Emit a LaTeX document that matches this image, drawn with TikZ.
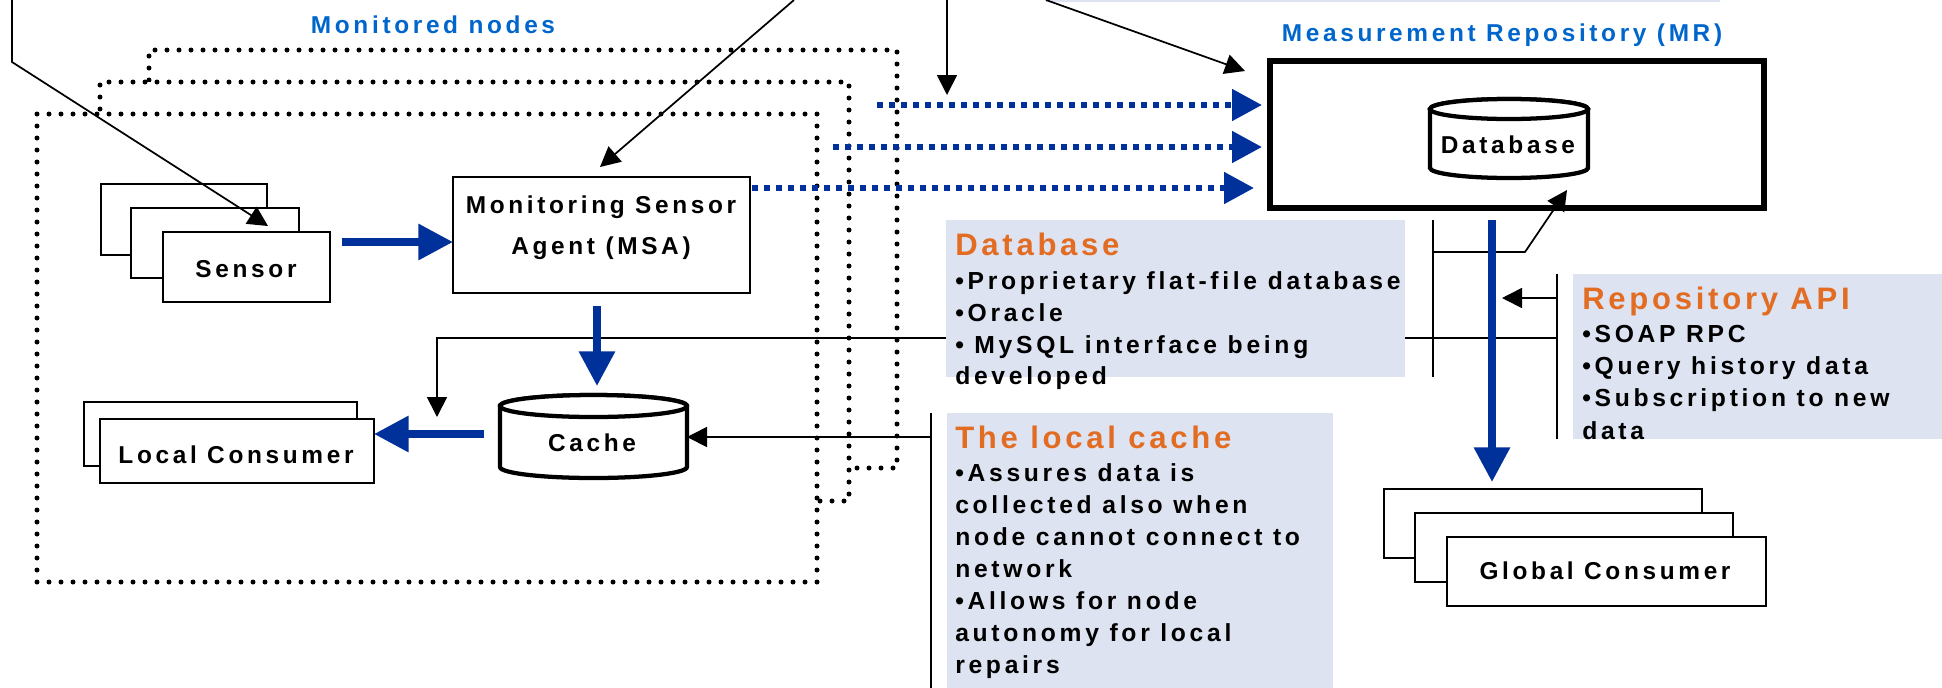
\documentclass[tikz,border=0pt]{standalone}
\usepackage{fontspec}
\usetikzlibrary{arrows.meta,calc}
\newfontfamily\bodyfont{Liberation Sans}[LetterSpace=15]
\newfontfamily\titlefont{Liberation Sans}[LetterSpace=12]
\definecolor{arrowblue}{RGB}{0,48,154}
\definecolor{labelblue}{RGB}{0,102,204}
\definecolor{calloutfill}{RGB}{221,227,240}
\definecolor{titleorange}{RGB}{227,108,35}

% box given by its top-left and bottom-right corners (pixel grid, y downwards)
\newcommand\placebox[6][]{%
  \pgfmathsetmacro\boxw{0.75*(#5-#3)}%
  \pgfmathsetmacro\boxh{0.75*(#6-#4)}%
  \node[#1, anchor=north west, inner sep=0pt, outer sep=0pt,
        minimum width=\boxw pt, minimum height=\boxh pt] (#2) at (#3,#4) {};}

\begin{document}
\begin{tikzpicture}[x=0.75pt, y=-0.75pt,
  txt/.style={font=\bodyfont\fontsize{18.3}{24}\selectfont\bfseries, inner sep=0pt, anchor=base},
  ctxt/.style={font=\bodyfont\fontsize{18.5}{24}\selectfont\bfseries, inner sep=0pt, anchor=base west},
  ctitle/.style={font=\titlefont\fontsize{23.3}{27}\selectfont\bfseries, inner sep=0pt,
                 anchor=base west, text=titleorange},
  bluelbl/.style={txt, text=labelblue},
  card/.style={draw, line width=1.5pt, fill=white},
  agentbox/.style={draw, line width=1.8pt, fill=white},
  nodebox/.style={draw, line width=3.75pt, dash pattern=on 0pt off 9pt,
                  line cap=round, fill=white},
  callout/.style={fill=calloutfill, draw=none},
  plain/.style={line width=1.3pt},
  conn/.style={line width=1.3pt, -{Triangle[length=15pt,width=15pt]}},
  flow/.style={line width=5.6pt, arrowblue, -{Triangle[length=26pt,width=26pt]}},
  feed/.style={line width=4.5pt, arrowblue, dash pattern=on 4.5pt off 4.5pt,
               -{Triangle[length=22.5pt,width=23pt]}},
  cyl/.style={line width=3.2pt, fill=white}
]
\useasboundingbox (0,0) rectangle (1942,687);
\clip (0,0) rectangle (1942,687);

% note box cut off at the top edge
\placebox[callout]{topnote}{1046}{-10}{1720}{2}

% monitored nodes (stacked)
\placebox[nodebox]{node3}{149}{50}{897}{468}
\placebox[nodebox]{node2}{100}{82}{849}{501}
\placebox[nodebox]{node1}{37}{114}{817}{582}

% sensors
\placebox[card]{s1}{101}{184}{267}{255}
\placebox[card]{s2}{131}{208}{299}{278}
\placebox[card]{s3}{163}{232}{330}{302}
\node[txt] (sensorLbl) at (246,277) {Sensor};

% monitoring sensor agent
\placebox[agentbox]{msa}{453}{177}{750}{293}
\node[txt] (msaLbl1) at (601,213) {Monitoring Sensor};
\node[txt] (msaLbl2) at (601,254) {Agent (MSA)};

% local consumers
\placebox[card]{lc1}{84}{402}{357}{466}
\placebox[card]{lc2}{100}{419}{374}{483}
\node[txt] (lcLbl) at (236,463) {Local Consumer};

% cache cylinder
\placebox{cache}{500}{395}{687}{478}
\draw[cyl] (500,406) -- (500,467)
  arc[start angle=180, end angle=360, x radius=70.1pt, y radius=8.25pt]
  -- (687,406)
  arc[start angle=0, end angle=180, x radius=70.1pt, y radius=8.25pt] -- cycle;
\draw[cyl] (593.5,406) ellipse[x radius=70.1pt, y radius=8.25pt];
\node[txt] (cacheLbl) at (592,451) {Cache};

% connector endpoints
\coordinate (tlA) at (12,0);
\coordinate (tlB) at (12,62);
\coordinate (tlTip) at (268,226);
\coordinate (msaSrc) at (794,0);
\coordinate (msaTip) at (600,167);
\coordinate (topDown) at (947,0);
\coordinate (topDownTip) at (947,95);
\coordinate (mrSrc) at (1046,0);
\coordinate (mrTip) at (1245,71);
\coordinate (dbbT) at (1433,220);
\coordinate (dbbB) at (1433,377);
\coordinate (dbbJ) at (1433,252);
\coordinate (dbbK) at (1525,252);
\coordinate (dbTip) at (1567,190);
\coordinate (apiT) at (1557,274);
\coordinate (apiB) at (1557,439);
\coordinate (apiJ) at (1557,298);
\coordinate (apiTip) at (1502,298);
\coordinate (apiK) at (1557,338);
\coordinate (lcTurn) at (437,338);
\coordinate (lcTip) at (437,417);
\coordinate (lccT) at (931,413);
\coordinate (lccB) at (931,700);
\coordinate (lccJ) at (931,437);

% line from the repository API down to the local consumer (behind the notes)
\draw[conn] (apiK) -- (lcTurn) -- (lcTip);

% explanatory notes
\placebox[callout]{dbNote}{946}{220}{1405}{377}
\placebox[callout]{cacheNote}{947}{413}{1333}{700}
\placebox[callout]{apiNote}{1573}{274}{1950}{439}

\node[ctitle] (dbT) at (955,255) {Database};
\node[ctxt] (dbL1) at (955,289) {•Proprietary flat-file database};
\node[ctxt] (dbL2) at (955,321) {•Oracle};
\node[ctxt] (dbL3) at (955,353) {• MySQL interface being};
\node[ctxt] (dbL4) at (955,384) {developed};

\node[ctitle] (cacheT) at (955,448) {The local cache};
\node[ctxt] (cacheL1) at (955,481) {•Assures data is};
\node[ctxt] (cacheL2) at (955,513) {collected also when};
\node[ctxt] (cacheL3) at (955,545) {node cannot connect to};
\node[ctxt] (cacheL4) at (955,577) {network};
\node[ctxt] (cacheL5) at (955,609) {•Allows for node};
\node[ctxt] (cacheL6) at (955,641) {autonomy for local};
\node[ctxt] (cacheL7) at (955,673) {repairs};

\node[ctitle] (apiTl) at (1582,309) {Repository API};
\node[ctxt] (apiL1) at (1582,342) {•SOAP RPC};
\node[ctxt] (apiL2) at (1582,374) {•Query history data};
\node[ctxt] (apiL3) at (1582,406) {•Subscription to new};
\node[ctxt] (apiL4) at (1582,439) {data};

% measurement repository
\placebox[draw, line width=4.5pt, fill=white]{mr}{1270}{61}{1764}{208}
\placebox{db}{1430}{99}{1588}{178}
\draw[cyl] (1430,109) -- (1430,168)
  arc[start angle=180, end angle=360, x radius=59.25pt, y radius=7.5pt]
  -- (1588,109)
  arc[start angle=0, end angle=180, x radius=59.25pt, y radius=7.5pt] -- cycle;
\draw[cyl] (1509,109) ellipse[x radius=59.25pt, y radius=7.5pt];
\node[txt] (dbLbl) at (1508,153) {Database};

% global consumers
\placebox[card]{gc1}{1384}{489}{1702}{558}
\placebox[card]{gc2}{1415}{513}{1733}{582}
\placebox[card]{gc3}{1447}{537}{1766}{606}
\node[txt] (gcLbl) at (1605,579) {Global Consumer};

% headings
\node[bluelbl] (monLbl) at (433,33) {Monitored nodes};
\node[bluelbl] (mrLbl) at (1502,41) {Measurement Repository (MR)};

% thin black connectors
\draw[conn] (tlA) -- (tlB) -- (tlTip);
\draw[conn] (msaSrc) -- (msaTip);
\draw[conn] (topDown) -- (topDownTip);
\draw[conn] (mrSrc) -- (mrTip);
\draw[plain] (dbbT) -- (dbbB);
\draw[conn] (dbbJ) -- (dbbK) -- (dbTip);
\draw[plain] (apiT) -- (apiB);
\draw[conn] (apiJ) -- (apiTip);
\draw[plain] (lccT) -- (lccB);
\draw[conn] (lccJ) -- (lccJ -| cache.east);

% data flow
\coordinate (sOut) at (342,242);
\draw[flow] (sOut) -- (sOut -| msa.west);
\coordinate (msaOut) at (597,306);
\draw[flow, shorten >=6.75pt] (msaOut) -- (msaOut |- cache.north);
\coordinate (cacheOut) at (484,434);
\draw[flow] (cacheOut) -- (cacheOut -| lc2.east);
\coordinate (mrOut) at (1492,220);
\draw[flow, shorten >=5.25pt] (mrOut) -- (mrOut |- gc1.north);

% measurements sent to the repository
\coordinate (f1) at (877,105);
\coordinate (f2) at (833,147);
\coordinate (f3) at (752,188);
\draw[feed, shorten >=6pt] (f1) -- (f1 -| mr.west);
\draw[feed, shorten >=6pt] (f2) -- (f2 -| mr.west);
\draw[feed, shorten >=12pt] (f3) -- (f3 -| mr.west);
\end{tikzpicture}
\end{document}
